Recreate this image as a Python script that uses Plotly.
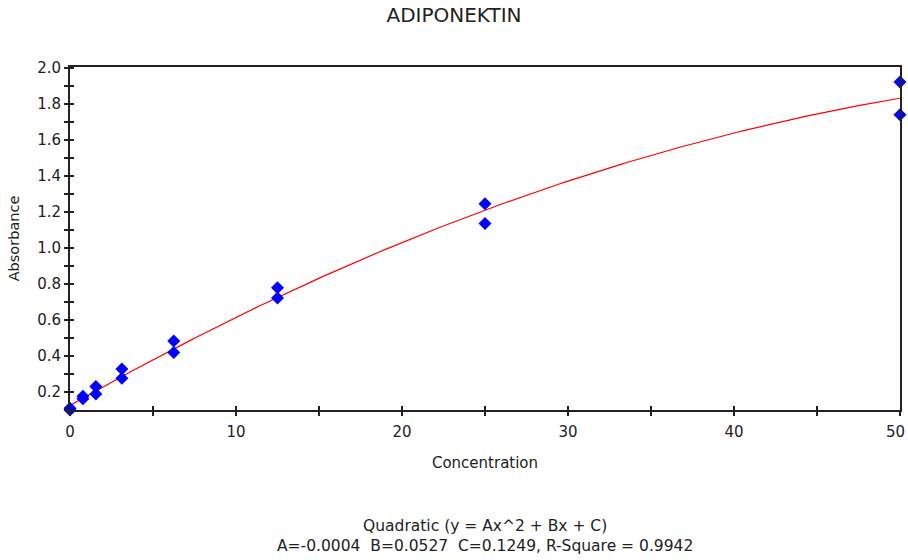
import numpy as np
import plotly.graph_objects as go

# Standard concentrations (duplicates) and measured absorbance
concentration = [0, 0, 0.78, 0.78, 1.56, 1.56, 3.125, 3.125,
                 6.25, 6.25, 12.5, 12.5, 25, 25, 50, 50]
absorbance = [0.10, 0.11, 0.176, 0.163, 0.231, 0.189, 0.328, 0.276,
              0.483, 0.420, 0.779, 0.722, 1.246, 1.137, 1.922, 1.740]

# Quadratic standard curve coefficients
coef_a = -0.000371
coef_b = 0.0527
coef_c = 0.1249
r_square = 0.9942

x_ticks = [0, 10, 20, 30, 40, 50]
y_ticks = [0.2, 0.4, 0.6, 0.8, 1.0, 1.2, 1.4, 1.6, 1.8, 2.0]

FONT = "DejaVu Sans, Verdana, sans-serif"
INK = "#222222"

xs = np.linspace(0, 50, 300)
ys = coef_a * xs ** 2 + coef_b * xs + coef_c

# the last x label sits right-aligned against the page edge, drawn separately
x_labels = [str(v) for v in x_ticks]
last_label = x_labels[-1]
x_labels[-1] = ""

fig = go.Figure()
fig.add_trace(go.Scatter(x=xs, y=ys, mode="lines",
                         line=dict(color="#ff0000", width=1.2),
                         hoverinfo="skip", showlegend=False))
fig.add_trace(go.Scatter(x=concentration, y=absorbance, mode="markers",
                         marker=dict(symbol="diamond", size=10, color="#0000ff",
                                     line=dict(width=0)),
                         cliponaxis=False, showlegend=False))
# invisible trace so the overlay axes (inner half of the tick marks) render
fig.add_trace(go.Scatter(x=[0], y=[0.1], mode="markers", xaxis="x2", yaxis="y2",
                         marker=dict(opacity=0), hoverinfo="skip", showlegend=False))

x_range = [0, 50]
y_range = [0.1, 2.006]

tick_style = dict(ticklen=4, tickwidth=1.5, tickcolor=INK)

fig.update_layout(
    width=908, height=560,
    margin=dict(l=70, r=8, t=67, b=150, autoexpand=False),
    paper_bgcolor="white", plot_bgcolor="white",
    font=dict(family=FONT, size=14, color=INK),
    title=dict(text="ADIPONEKTIN", x=0.5, xanchor="center", y=0.974, yanchor="middle",
               font=dict(family=FONT, size=20, color=INK)),
    xaxis=dict(range=x_range, tickvals=x_ticks, ticktext=x_labels,
               ticks="outside", **tick_style,
               minor=dict(dtick=5, tick0=0, ticks="outside", **tick_style),
               showline=True, linecolor=INK, linewidth=2, mirror=True,
               showgrid=False, zeroline=False, automargin=False,
               ticklabelstandoff=3,
               title=dict(text="Concentration", standoff=17,
                          font=dict(family=FONT, size=15, color=INK)),
               tickfont=dict(family=FONT, size=15, color=INK)),
    yaxis=dict(range=y_range, tickvals=y_ticks, ticktext=[f"{v:.1f}" for v in y_ticks],
               ticks="outside", **tick_style,
               minor=dict(dtick=0.1, tick0=0, ticks="outside", **tick_style),
               showline=True, linecolor=INK, linewidth=2, mirror=True,
               showgrid=False, zeroline=False, automargin=False,
               title=dict(text="Absorbance", standoff=14,
                          font=dict(family=FONT, size=14.5, color=INK)),
               tickfont=dict(family=FONT, size=15, color=INK)),
    xaxis2=dict(range=x_range, overlaying="x", side="bottom", dtick=5, tick0=0,
                ticks="inside", **tick_style, automargin=False,
                showticklabels=False, showgrid=False, zeroline=False, showline=False),
    yaxis2=dict(range=y_range, overlaying="y", side="left", dtick=0.1, tick0=0,
                ticks="inside", **tick_style, automargin=False,
                showticklabels=False, showgrid=False, zeroline=False, showline=False),
)

fig.add_annotation(
    text=last_label, xref="x", yref="paper", x=x_ticks[-1], y=0,
    xanchor="right", yanchor="top", xshift=7, yshift=-11,
    showarrow=False, font=dict(family=FONT, size=15, color=INK),
)

gap = "&nbsp;&nbsp;"
fig.add_annotation(
    text="Quadratic (y = Ax^2 + Bx + C)<br>"
         f"A={coef_a:.4f}{gap}B={coef_b:.4f}{gap}C={coef_c:.4f}, R-Square = {r_square:.4f}",
    xref="paper", yref="paper", x=0.5, y=-0.305, xanchor="center", yanchor="top",
    showarrow=False, align="center",
    font=dict(family=FONT, size=15.5, color=INK),
)

fig.write_html("out.html")
